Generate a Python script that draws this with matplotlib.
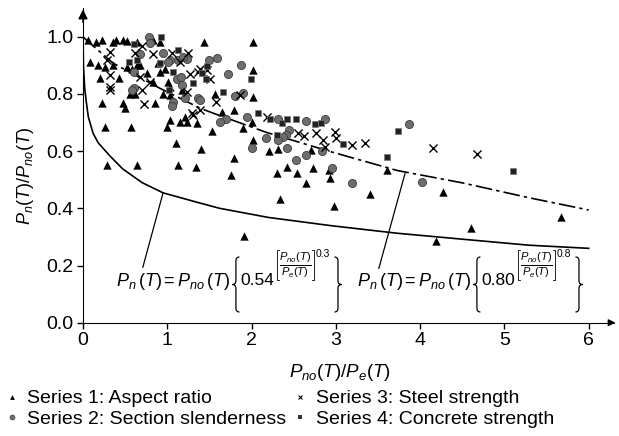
import matplotlib
matplotlib.use("Agg")
import matplotlib.pyplot as plt
from matplotlib.lines import Line2D
from matplotlib.path import Path
from matplotlib.patches import PathPatch
from matplotlib.transforms import IdentityTransform

plt.rcParams['font.family'] = ['Liberation Sans', 'DejaVu Sans']
plt.rcParams['mathtext.fontset'] = 'custom'
plt.rcParams['mathtext.rm'] = 'Liberation Sans'
plt.rcParams['mathtext.it'] = 'Liberation Sans:italic'
plt.rcParams['mathtext.bf'] = 'Liberation Sans:bold'

# ---- data ----
s1_x = [0.06, 0.16, 0.23, 0.36, 0.39, 0.48, 0.52, 0.64, 0.83, 0.91, 1.43, 2.02,
        0.08, 0.18, 0.26, 0.36, 0.20, 0.43, 0.52, 0.58, 0.64, 0.68, 0.76, 0.83, 0.91,
        0.97, 0.89, 1.01, 1.03, 0.56, 0.62, 0.22, 0.48, 0.50, 0.85, 0.95, 1.03, 1.17,
        1.57, 1.79, 2.02, 2.02, 1.65, 1.21, 1.03, 1.15, 1.23, 1.35, 1.53, 0.26, 0.57,
        1.00, 1.10, 1.40, 1.79, 2.02, 2.00, 0.28, 0.64, 1.13, 1.34, 1.90, 2.21, 2.31,
        1.76, 2.30, 2.42, 2.54, 2.73, 2.92, 2.93, 2.65, 2.34, 2.98, 3.41, 3.61, 2.71,
        1.91, 4.27, 4.60, 4.19, 5.67]
s1_y = [0.99, 0.98, 0.99, 0.98, 0.99, 0.99, 0.985, 0.98, 0.99, 0.98, 0.98, 0.98,
        0.91, 0.90, 0.895, 0.90, 0.855, 0.855, 0.895, 0.886, 0.90, 0.90, 0.874, 0.843, 0.878,
        0.886, 0.909, 0.843, 0.825, 0.80, 0.80, 0.767, 0.767, 0.75, 0.767, 0.80, 0.796, 0.814,
        0.80, 0.742, 0.884, 0.79, 0.735, 0.72, 0.709, 0.703, 0.703, 0.699, 0.67, 0.685, 0.685,
        0.685, 0.627, 0.606, 0.575, 0.639, 0.70, 0.551, 0.551, 0.551, 0.545, 0.682, 0.60, 0.606,
        0.516, 0.522, 0.545, 0.524, 0.54, 0.534, 0.507, 0.487, 0.431, 0.408, 0.45, 0.534, 0.604,
        0.303, 0.456, 0.33, 0.286, 0.37]

s2_x = [0.78, 0.79, 0.95, 0.68, 1.03, 1.13, 1.23, 1.01, 1.19, 0.60, 1.11, 1.16, 1.18,
        0.60, 0.58, 1.07, 1.05, 1.21, 1.36, 1.39, 1.50, 1.59, 1.72, 1.88, 1.80, 1.90,
        1.95, 1.70, 1.62, 2.31, 2.44, 2.41, 2.37, 2.31, 2.17, 2.01, 2.42, 2.65, 2.87,
        2.53, 2.65, 2.84, 2.95, 3.19, 3.87, 4.02]
s2_y = [0.998, 0.979, 0.944, 0.94, 0.918, 0.918, 0.921, 0.913, 0.93, 0.878, 0.851, 0.86, 0.831,
        0.82, 0.814, 0.773, 0.758, 0.785, 0.787, 0.779, 0.918, 0.924, 0.87, 0.902, 0.793, 0.802,
        0.718, 0.713, 0.703, 0.711, 0.674, 0.656, 0.648, 0.639, 0.647, 0.61, 0.611, 0.706, 0.712,
        0.569, 0.586, 0.60, 0.542, 0.487, 0.695, 0.493]

s3_x = [0.32, 0.62, 0.70, 0.83, 1.05, 1.15, 1.25, 0.28, 0.32, 0.68, 0.79, 0.32, 0.32,
        0.70, 0.72, 1.23, 1.27, 1.37, 1.47, 1.51, 1.58, 1.29, 1.31, 1.39, 1.86, 2.18,
        1.39, 2.55, 2.62, 2.77, 2.85, 2.99, 3.00, 3.19, 3.35, 2.87, 4.15, 4.67]
s3_y = [0.948, 0.944, 0.967, 0.94, 0.942, 0.913, 0.942, 0.918, 0.866, 0.86, 0.843, 0.823, 0.814,
        0.814, 0.765, 0.808, 0.87, 0.878, 0.884, 0.852, 0.773, 0.732, 0.726, 0.744, 0.796, 0.718,
        0.886, 0.664, 0.653, 0.664, 0.639, 0.668, 0.645, 0.62, 0.627, 0.615, 0.61, 0.59]

s4_x = [0.93, 0.60, 1.13, 0.55, 0.64, 0.91, 1.07, 1.31, 1.66, 1.99, 2.08, 1.02, 1.47,
        1.41, 1.46, 2.22, 2.36, 2.42, 2.53, 2.75, 2.82, 2.30, 3.09, 3.61, 3.74, 5.10]
s4_y = [1.0, 0.973, 0.953, 0.913, 0.918, 0.909, 0.878, 0.839, 0.808, 0.852, 0.734, 0.814, 0.898,
        0.872, 0.851, 0.711, 0.697, 0.711, 0.711, 0.695, 0.697, 0.656, 0.625, 0.58, 0.67, 0.53]

low_x = [0.0, 0.005, 0.02, 0.04, 0.063, 0.12, 0.18, 0.32, 0.47, 0.7, 0.95, 1.38, 1.62,
         2.2, 2.95, 3.72, 4.5, 5.29, 6.0]
low_y = [1.0, 0.9, 0.82, 0.77, 0.72, 0.662, 0.629, 0.583, 0.538, 0.49, 0.454, 0.419, 0.40,
         0.368, 0.339, 0.313, 0.292, 0.271, 0.26]

up_x = [0.0, 0.04, 0.36, 0.91, 1.39, 1.55, 2.18, 2.95, 3.73, 4.5, 5.29, 6.0]
up_y = [1.0, 0.988, 0.907, 0.82, 0.75, 0.732, 0.665, 0.597, 0.532, 0.489, 0.437, 0.394]

coefs = ["0.54", "0.80"]
powers = ["0.3", "0.8"]

x_ticks = [0, 1, 2, 3, 4, 5, 6]
y_ticks = [0.0, 0.2, 0.4, 0.6, 0.8, 1.0]
legend_labels = ["Series 1: Aspect ratio", "Series 2: Section slenderness",
                 "Series 3: Steel strength", "Series 4: Concrete strength"]

# ---- figure ----
W, H = 619, 436
fig = plt.figure(figsize=(W / 100, H / 100), dpi=100)
ax = fig.add_axes([83 / W, (H - 322.7) / H, 531 / W, 314.6 / H])
ax.set_xlim(0, 6.3)
ax.set_ylim(0, 1.1)

ax.plot(low_x, low_y, color='black', lw=1.2, zorder=2)
ax.plot(up_x, up_y, color='black', lw=1.2, linestyle=(0, (10, 2.5, 2, 2.5)), zorder=2)

ax.scatter(s1_x, s1_y, marker='^', s=36, color='black', linewidths=0, zorder=3)
ax.scatter(s2_x, s2_y, marker='o', s=34, facecolor='#6e6e6e', edgecolor='#3a3a3a',
           linewidths=0.6, zorder=3)
ax.scatter(s3_x, s3_y, marker='x', s=34, color='black', linewidths=1.0, zorder=3)
ax.scatter(s4_x, s4_y, marker='s', s=14, facecolor='#222222', edgecolor='#777777',
           linewidths=0.5, zorder=3)

# leader lines
ax.plot([0.95, 0.71], [0.454, 0.194], color='black', lw=0.9)
ax.plot([3.82, 3.51], [0.521, 0.19], color='black', lw=0.9)

for s in ['top', 'right']:
    ax.spines[s].set_visible(False)
ax.set_xticks(x_ticks)
ax.set_yticks(y_ticks)
ax.set_yticklabels([f"{v:.1f}" for v in y_ticks])
ax.tick_params(direction='out', length=4, width=1, labelsize=14, pad=3)

# axis arrows
ax.annotate('', xy=(0, 1.105), xytext=(0, 1.04), xycoords='data',
            arrowprops=dict(arrowstyle='-|>', color='black', lw=1, mutation_scale=14),
            annotation_clip=False)
ax.annotate('', xy=(6.35, 0), xytext=(6.2, 0), xycoords='data',
            arrowprops=dict(arrowstyle='-|>', color='black', lw=1, mutation_scale=10),
            annotation_clip=False)

fig.text(340 / W, 1 - 372 / H, r'$P_{no}(T)/P_e(T)$', fontsize=13.5, ha='center', va='center')
fig.text(25 / W, 1 - 176 / H, r'$P_n(T)/P_{no}(T)$', fontsize=13, ha='center', va='center',
         rotation=90)

# ---- formulas, laid out in pixel space ----
renderer = fig.canvas.get_renderer()


def ftext(xpx, ytop, s, size, ha='left', va='center'):
    return fig.text(xpx / W, 1 - ytop / H, s, fontsize=size, ha=ha, va=va)


def brace(xa, xb, ytop, ybot, left=True):
    yt, yb = H - ytop, H - ybot
    ym = (yt + yb) / 2
    xm = (xa + xb) / 2
    r = 4
    if left:
        tip, end = xa, xb
    else:
        tip, end = xb, xa
    verts = [(end, yt), (xm, yt), (xm, yt - r), (xm, ym + r), (xm, ym), (tip, ym),
             (xm, ym), (xm, ym - r), (xm, yb + r), (xm, yb), (end, yb)]
    codes = [Path.MOVETO, Path.CURVE3, Path.CURVE3, Path.LINETO, Path.CURVE3, Path.CURVE3,
             Path.CURVE3, Path.CURVE3, Path.LINETO, Path.CURVE3, Path.CURVE3]
    p = PathPatch(Path(verts, codes), transform=IdentityTransform(), fill=False,
                  lw=0.9, edgecolor='black')
    fig.add_artist(p)


def bracket(x, ytop, ybot, left=True):
    yt, yb = H - ytop, H - ybot
    d = 2 if left else -2
    fig.add_artist(Line2D([x + d, x, x, x + d], [yt, yt, yb, yb], transform=IdentityTransform(),
                          color='black', lw=0.6))


def formula(x0, coef, power):
    t1 = ftext(x0, 282, r'$P_n\,(T) = P_{no}\,(T)$', 13)
    bb = t1.get_window_extent(renderer)
    x = bb.x1 + 2
    brace(x, x + 7, 257, 312, left=True)
    x += 8
    t2 = ftext(x, 280, coef, 12.5)
    bb = t2.get_window_extent(renderer)
    x = bb.x1 + 2
    t3 = ftext(x + 3, 265, r'$\frac{P_{no}(T)}{P_e(T)}$', 11.5)
    bb3 = t3.get_window_extent(renderer)
    ytop = H - bb3.y1 - 0.5
    ybot = H - bb3.y0 + 0.5
    bracket(x + 1, ytop, ybot, left=True)
    xr = bb3.x1 + 2
    bracket(xr, ytop, ybot, left=False)
    t4 = ftext(xr + 2, ytop - 1, power, 7.5, va='top')
    bb4 = t4.get_window_extent(renderer)
    x = bb4.x1 + 4
    brace(x, x + 7, 257, 312, left=False)


formula(116, coefs[0], powers[0])
formula(357, coefs[1], powers[1])

handles = [
    Line2D([], [], marker='^', ls='', color='black', ms=3.5, mew=0),
    Line2D([], [], marker='o', ls='', markerfacecolor='#6e6e6e', markeredgecolor='#3a3a3a', ms=3.5, mew=0.5),
    Line2D([], [], marker='x', ls='', color='black', ms=3.5, mew=0.8),
    Line2D([], [], marker='s', ls='', color='#333333', ms=3.0, mew=0),
]
fig.legend(handles, legend_labels, ncol=2, loc='upper left',
           bbox_to_anchor=(0 / W, 1 - 384 / H), frameon=False, fontsize=14,
           handlelength=0.6, handletextpad=0.5, columnspacing=0.4,
           labelspacing=0.15, borderaxespad=0, borderpad=0.3)

fig.savefig('out.png', dpi=100)
